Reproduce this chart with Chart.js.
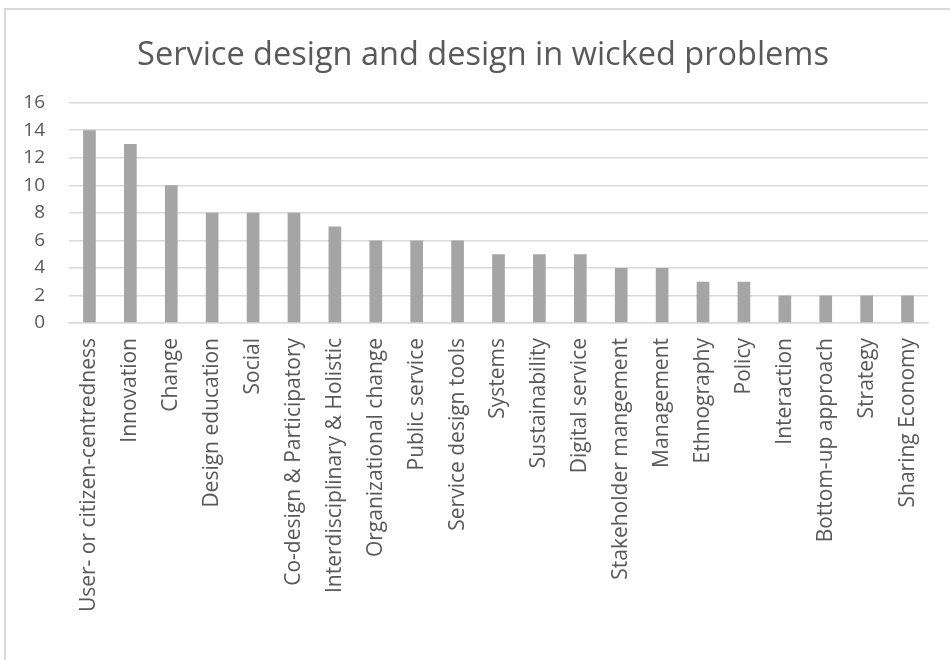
<!DOCTYPE html>
<html>
<head>
<meta charset="utf-8">
<script src="https://cdn.jsdelivr.net/npm/chart.js@4/dist/chart.umd.min.js"></script>
<style>
  html, body { margin: 0; padding: 0; background: #fff; overflow: hidden; }
  #wrap { position: relative; width: 950px; height: 660px; }
  #frame { position: absolute; left: 4px; top: 8px; width: 980px; height: 700px; border: 2px solid #d9d9d9; box-sizing: border-box; pointer-events: none; }
  canvas { position: absolute; left: 0; top: 0; }
</style>
</head>
<body>
<div id="wrap">
  <canvas id="c" width="950" height="660"></canvas>
  <div id="frame"></div>
</div>
<script>
const chartTitle = "Service design and design in wicked problems";
const categories = [
  "User- or citizen-centredness", "Innovation", "Change", "Design education", "Social",
  "Co-design & Participatory", "Interdisciplinary & Holistic", "Organizational change",
  "Public service", "Service design tools", "Systems", "Sustainability", "Digital service",
  "Stakeholder mangement", "Management", "Ethnography", "Policy", "Interaction",
  "Bottom-up approach", "Strategy", "Sharing Economy"
];
const counts = [14, 13, 10, 8, 8, 8, 7, 6, 6, 6, 5, 5, 5, 4, 4, 3, 3, 2, 2, 2, 2];
const yMin = 0, yMax = 16, yStep = 2;

const textColor = "#595959";
const fontFamily = "'Open Sans', sans-serif";

// Draws the chart title (offset slightly right of canvas centre, as in the reference)
const titlePlugin = {
  id: "offsetTitle",
  afterDraw(chart) {
    const ctx = chart.ctx;
    ctx.save();
    ctx.font = "normal 32.5px " + fontFamily;
    ctx.fillStyle = textColor;
    ctx.textAlign = "center";
    ctx.textBaseline = "middle";
    ctx.fillText(chartTitle, (38 + chart.chartArea.right) / 2, 55.5);
    ctx.restore();
  }
};

new Chart(document.getElementById("c"), {
  type: "bar",
  data: {
    labels: categories,
    datasets: [{
      data: counts,
      backgroundColor: "#a5a5a5",
      borderWidth: 0,
      barPercentage: 0.31,
      categoryPercentage: 1.0
    }]
  },
  options: {
    responsive: false,
    animation: false,
    layout: { padding: { top: 102.7, right: 22, left: 0, bottom: 0 } },
    plugins: {
      legend: { display: false },
      tooltip: { enabled: false },
      title: { display: false }
    },
    scales: {
      x: {
        grid: { display: false, drawTicks: false },
        border: { display: true, color: "#d9d9d9", width: 1.5 },
        ticks: {
          color: textColor,
          font: { family: fontFamily, size: 21 },
          maxRotation: 90, minRotation: 90,
          autoSkip: false,
          padding: 15
        },
        afterFit: (s) => { s.height = 337; }
      },
      y: {
        min: yMin, max: yMax,
        grid: { color: "#d9d9d9", lineWidth: 1.5, drawTicks: false },
        border: { display: false },
        ticks: {
          stepSize: yStep,
          color: textColor,
          font: { family: fontFamily, size: 19 },
          padding: 24
        },
        afterFit: (s) => { s.width = 69; }
      }
    }
  },
  plugins: [titlePlugin]
});
</script>
</body>
</html>
